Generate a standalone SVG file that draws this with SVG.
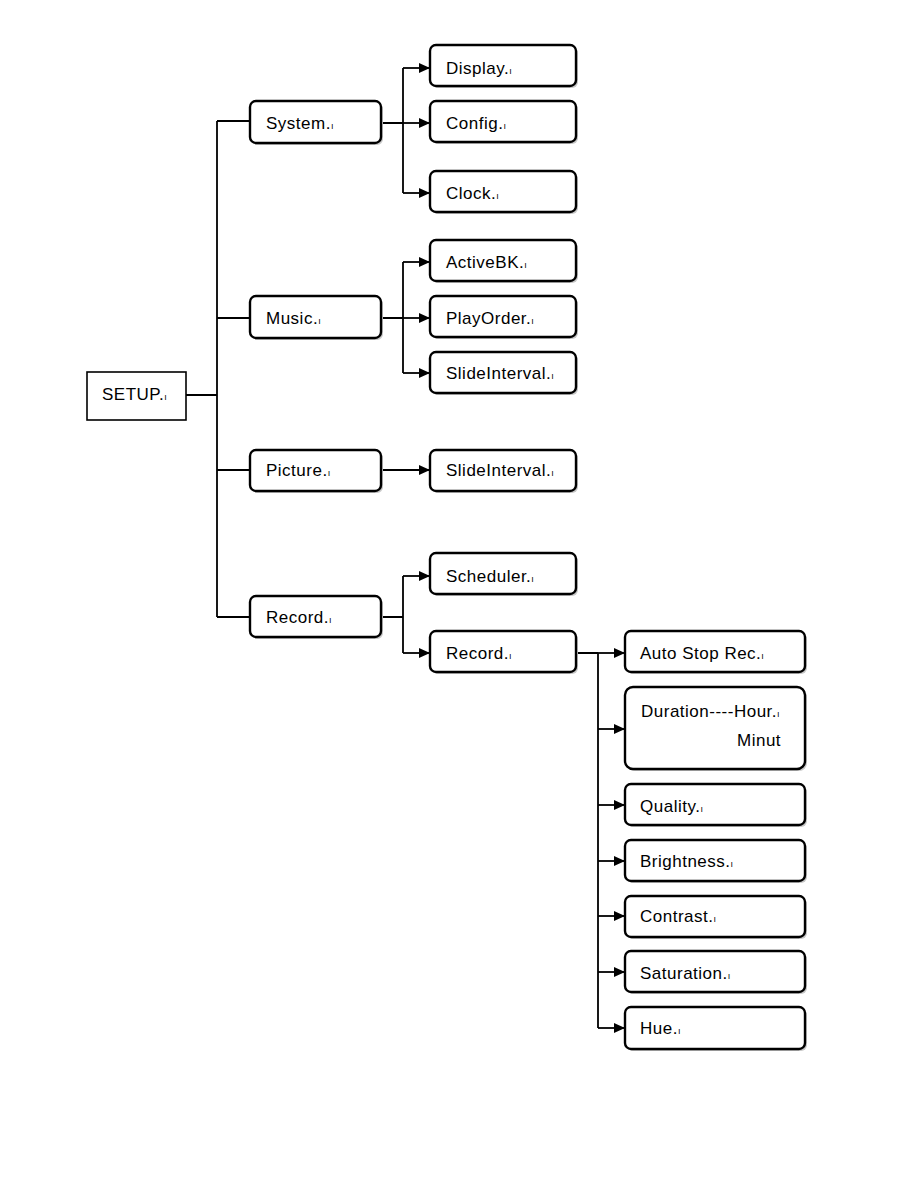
<svg xmlns="http://www.w3.org/2000/svg" width="918" height="1188" viewBox="0 0 918 1188">
<style>
.b{fill:#fff;stroke:#000;stroke-width:2.4}
.s{fill:#fff;stroke:#000;stroke-width:1.6}
.sh{fill:#c8c8c8}
.t{font-family:"Liberation Sans",Arial,sans-serif;font-size:17px;letter-spacing:0.5px;fill:#000}
.m{font-size:9px}
.c{fill:none;stroke:#000;stroke-width:1.8}
</style>
<defs>
<marker id="a" viewBox="0 0 10 10" refX="10" refY="5" markerWidth="11" markerHeight="11" markerUnits="userSpaceOnUse" orient="auto">
<path d="M0,0.5 L10,5 L0,9.5 Z" fill="#000"/>
</marker>
</defs>
<rect width="918" height="1188" fill="#fff"/>
<g id="connectors">
<path class="c" d="M186,395 H217 M217,121 V617 M217,121 H250 M217,318 H250 M217,470 H250 M217,617 H250"/>
<path class="c" d="M381,123 H403 M403,68 V193"/>
<path class="c" d="M403,68 H430" marker-end="url(#a)"/>
<path class="c" d="M403,123 H430" marker-end="url(#a)"/>
<path class="c" d="M403,193 H430" marker-end="url(#a)"/>
<path class="c" d="M381,318 H403 M403,262 V373"/>
<path class="c" d="M403,262 H430" marker-end="url(#a)"/>
<path class="c" d="M403,318 H430" marker-end="url(#a)"/>
<path class="c" d="M403,373 H430" marker-end="url(#a)"/>
<path class="c" d="M381,470 H430" marker-end="url(#a)"/>
<path class="c" d="M381,617 H403 M403,576 V653"/>
<path class="c" d="M403,576 H430" marker-end="url(#a)"/>
<path class="c" d="M403,653 H430" marker-end="url(#a)"/>
<path class="c" d="M576,653 H598 M598,653 V1028"/>
<path class="c" d="M598,653 H625" marker-end="url(#a)"/>
<path class="c" d="M598,729 H625" marker-end="url(#a)"/>
<path class="c" d="M598,805 H625" marker-end="url(#a)"/>
<path class="c" d="M598,861 H625" marker-end="url(#a)"/>
<path class="c" d="M598,916 H625" marker-end="url(#a)"/>
<path class="c" d="M598,972 H625" marker-end="url(#a)"/>
<path class="c" d="M598,1028 H625" marker-end="url(#a)"/>
</g>
<g id="setup"><rect class="s" x="87" y="372" width="99" height="48"/><text class="t" x="102" y="400">SETUP.<tspan class="m">ı</tspan></text></g>
<g id="system"><rect class="sh" x="252" y="103" width="131" height="42" rx="6"/><rect class="b" x="250" y="101" width="131" height="42" rx="6"/><text class="t" x="266" y="129">System.<tspan class="m">ı</tspan></text></g>
<g id="music"><rect class="sh" x="252" y="298" width="131" height="42" rx="6"/><rect class="b" x="250" y="296" width="131" height="42" rx="6"/><text class="t" x="266" y="324">Music.<tspan class="m">ı</tspan></text></g>
<g id="picture"><rect class="sh" x="252" y="452" width="131" height="41" rx="6"/><rect class="b" x="250" y="450" width="131" height="41" rx="6"/><text class="t" x="266" y="476">Picture.<tspan class="m">ı</tspan></text></g>
<g id="record"><rect class="sh" x="252" y="598" width="131" height="41" rx="6"/><rect class="b" x="250" y="596" width="131" height="41" rx="6"/><text class="t" x="266" y="623">Record.<tspan class="m">ı</tspan></text></g>
<g id="display"><rect class="sh" x="432" y="47" width="146" height="41" rx="6"/><rect class="b" x="430" y="45" width="146" height="41" rx="6"/><text class="t" x="446" y="74">Display.<tspan class="m">ı</tspan></text></g>
<g id="config"><rect class="sh" x="432" y="103" width="146" height="41" rx="6"/><rect class="b" x="430" y="101" width="146" height="41" rx="6"/><text class="t" x="446" y="129">Config.<tspan class="m">ı</tspan></text></g>
<g id="clock"><rect class="sh" x="432" y="173" width="146" height="41" rx="6"/><rect class="b" x="430" y="171" width="146" height="41" rx="6"/><text class="t" x="446" y="199">Clock.<tspan class="m">ı</tspan></text></g>
<g id="activebk"><rect class="sh" x="432" y="242" width="146" height="41" rx="6"/><rect class="b" x="430" y="240" width="146" height="41" rx="6"/><text class="t" x="446" y="268">ActiveBK.<tspan class="m">ı</tspan></text></g>
<g id="playorder"><rect class="sh" x="432" y="298" width="146" height="41" rx="6"/><rect class="b" x="430" y="296" width="146" height="41" rx="6"/><text class="t" x="446" y="324">PlayOrder.<tspan class="m">ı</tspan></text></g>
<g id="slideinterval1"><rect class="sh" x="432" y="354" width="146" height="41" rx="6"/><rect class="b" x="430" y="352" width="146" height="41" rx="6"/><text class="t" x="446" y="379">SlideInterval.<tspan class="m">ı</tspan></text></g>
<g id="slideinterval2"><rect class="sh" x="432" y="452" width="146" height="41" rx="6"/><rect class="b" x="430" y="450" width="146" height="41" rx="6"/><text class="t" x="446" y="476">SlideInterval.<tspan class="m">ı</tspan></text></g>
<g id="scheduler"><rect class="sh" x="432" y="555" width="146" height="41" rx="6"/><rect class="b" x="430" y="553" width="146" height="41" rx="6"/><text class="t" x="446" y="582">Scheduler.<tspan class="m">ı</tspan></text></g>
<g id="record2"><rect class="sh" x="432" y="633" width="146" height="41" rx="6"/><rect class="b" x="430" y="631" width="146" height="41" rx="6"/><text class="t" x="446" y="659">Record.<tspan class="m">ı</tspan></text></g>
<g id="autostop"><rect class="sh" x="627" y="633" width="180" height="41" rx="6"/><rect class="b" x="625" y="631" width="180" height="41" rx="6"/><text class="t" x="640" y="659">Auto Stop Rec.<tspan class="m">ı</tspan></text></g>
<g id="duration"><rect class="sh" x="627" y="689" width="180" height="82" rx="8"/><rect class="b" x="625" y="687" width="180" height="82" rx="8"/><text class="t" x="641" y="717">Duration----Hour.<tspan class="m">ı</tspan></text><text class="t" x="737" y="746">Minut</text></g>
<g id="quality"><rect class="sh" x="627" y="786" width="180" height="41" rx="6"/><rect class="b" x="625" y="784" width="180" height="41" rx="6"/><text class="t" x="640" y="812">Quality.<tspan class="m">ı</tspan></text></g>
<g id="brightness"><rect class="sh" x="627" y="842" width="180" height="41" rx="6"/><rect class="b" x="625" y="840" width="180" height="41" rx="6"/><text class="t" x="640" y="867">Brightness.<tspan class="m">ı</tspan></text></g>
<g id="contrast"><rect class="sh" x="627" y="898" width="180" height="41" rx="6"/><rect class="b" x="625" y="896" width="180" height="41" rx="6"/><text class="t" x="640" y="922">Contrast.<tspan class="m">ı</tspan></text></g>
<g id="saturation"><rect class="sh" x="627" y="953" width="180" height="41" rx="6"/><rect class="b" x="625" y="951" width="180" height="41" rx="6"/><text class="t" x="640" y="979">Saturation.<tspan class="m">ı</tspan></text></g>
<g id="hue"><rect class="sh" x="627" y="1009" width="180" height="42" rx="6"/><rect class="b" x="625" y="1007" width="180" height="42" rx="6"/><text class="t" x="640" y="1034">Hue.<tspan class="m">ı</tspan></text></g>
</svg>
